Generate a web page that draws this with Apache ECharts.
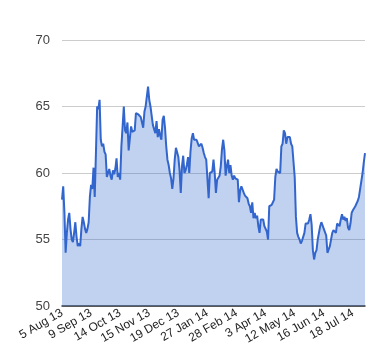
<!DOCTYPE html>
<html>
<head>
<meta charset="utf-8">
<script src="https://cdn.jsdelivr.net/npm/echarts@6/dist/echarts.min.js"></script>
<style>
html,body{margin:0;padding:0;background:#fff;}
#chart{width:380px;height:360px;}
</style>
</head>
<body>
<div id="chart"></div>
<script>
// Tick labels shown every 24 trading days
const tickLabels = ["5 Aug 13","9 Sep 13","14 Oct 13","15 Nov 13","19 Dec 13","27 Jan 14","28 Feb 14","3 Apr 14","12 May 14","16 Jun 14","18 Jul 14"];
const tickStep = 24;

// Daily values (trading days)
const values = [
58.0,59.0,57.0,54.0,55.5,56.5,57.0,55.8,55.0,54.8,
55.5,56.3,55.2,54.5,54.7,54.5,55.8,56.7,56.3,55.8,
55.5,55.8,56.3,58.2,59.1,58.8,60.4,58.2,61.5,65.0,
64.8,65.5,62.5,62.0,62.2,61.6,61.4,59.7,60.0,60.3,
59.8,59.5,60.2,59.9,60.3,61.1,59.7,60.0,59.5,62.0,
63.5,65.0,63.2,63.0,63.8,61.7,62.6,63.5,63.1,63.0,
63.2,64.5,64.5,64.4,64.3,64.2,63.8,63.4,64.6,65.0,
64.9,66.5,65.5,65.0,65.1,63.6,63.3,63.0,63.9,62.7,
63.3,62.8,62.5,64.0,64.3,63.4,62.0,61.0,60.6,60.0,
59.6,58.8,59.6,61.0,61.9,62.0,61.2,60.2,58.5,60.5,
61.3,60.0,60.2,60.6,61.2,60.0,61.6,62.6,63.0,62.5,
62.6,62.5,62.4,62.0,62.1,62.2,61.9,61.5,61.2,61.0,
60.9,58.1,60.0,60.0,60.1,61.0,60.0,58.5,59.5,59.4,
59.8,60.5,61.8,62.5,61.7,59.8,60.5,61.0,60.0,60.6,
59.8,59.5,59.8,59.6,59.7,59.5,57.8,58.7,59.0,58.9,
58.5,58.3,58.2,58.1,57.7,57.5,57.0,57.8,56.6,57.0,
56.6,56.8,56.0,55.5,56.5,56.4,56.5,56.0,55.9,55.6,
55.0,57.5,57.4,57.6,57.8,58.0,59.7,60.3,60.1,60.2,
60.0,62.0,62.2,63.2,63.0,62.2,62.7,62.8,62.7,62.2,
62.0,61.9,59.7,56.7,55.5,55.2,55.0,54.7,54.9,55.2,
55.5,56.2,56.3,56.2,56.5,56.9,56.1,54.2,53.5,54.0,
54.2,55.0,55.5,56.0,56.3,56.2,55.8,55.7,55.3,54.0,
54.1,54.5,55.0,55.5,55.7,55.6,55.5,56.2,56.1,56.0,
56.5,56.9,56.5,56.7,56.4,56.6,55.9,55.7,56.2,57.0,
57.2,57.1,57.5,57.6,57.9,58.2,58.8,58.7,60.0,60.8,
61.5
];

const yTicks = [50, 55, 60, 65, 70];

const categories = values.map((v, i) => String(i));

const chart = echarts.init(document.getElementById('chart'), null, {renderer: 'canvas'});
chart.setOption({
  animation: false,
  backgroundColor: '#ffffff',
  grid: {left: 62, right: 15, top: 40, bottom: 54, containLabel: false},
  xAxis: {
    type: 'category',
    data: categories,
    boundaryGap: false,
    axisLine: {show: true, lineStyle: {color: '#333333', width: 1.5}},
    axisTick: {show: false},
    splitLine: {show: false},
    axisLabel: {
      interval: tickStep - 1,
      rotate: 30,
      margin: 6,
      fontFamily: 'Liberation Sans, Arial, sans-serif',
      fontSize: 12,
      color: '#222222',
      formatter: function (val, idx) {
        const k = Math.round(idx / tickStep);
        return tickLabels[k] !== undefined ? tickLabels[k] : '';
      }
    }
  },
  yAxis: {
    type: 'value',
    min: yTicks[0],
    max: yTicks[yTicks.length - 1],
    interval: 5,
    axisLine: {show: false},
    axisTick: {show: false},
    splitLine: {show: true, lineStyle: {color: '#cccccc', width: 1}},
    axisLabel: {
      margin: 12,
      fontFamily: 'Liberation Sans, Arial, sans-serif',
      fontSize: 13,
      color: '#444444'
    }
  },
  series: [{
    type: 'line',
    data: values,
    showSymbol: false,
    symbol: 'none',
    lineStyle: {color: '#3366cc', width: 2},
    itemStyle: {color: '#3366cc'},
    areaStyle: {color: '#3366cc', opacity: 0.3},
    z: 3
  }]
});
</script>
</body>
</html>
